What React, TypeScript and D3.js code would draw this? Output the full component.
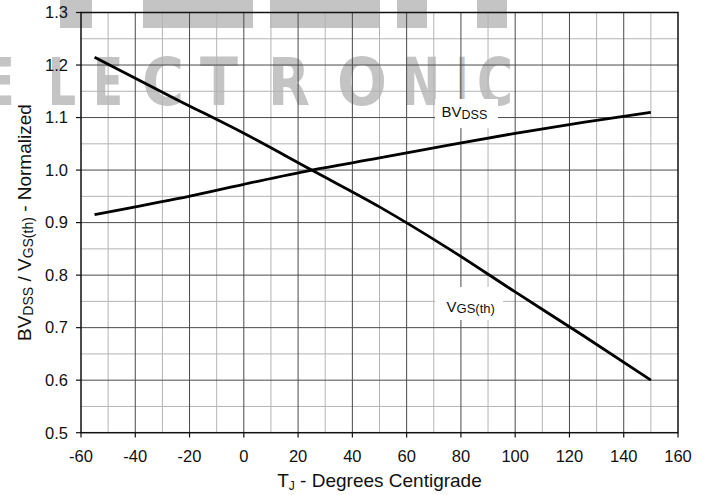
import React from "react";
import * as d3 from "d3";

const temps = [-55, -25, 0, 25, 50, 75, 100, 125, 150];
const bvdss = [0.915, 0.945, 0.973, 1.0, 1.023, 1.047, 1.07, 1.091, 1.11];
const vgsth = [1.215, 1.135, 1.07, 1.0, 0.93, 0.852, 0.768, 0.685, 0.6];
const xTicks = [-60, -40, -20, 0, 20, 40, 60, 80, 100, 120, 140, 160];
const yTicks = [0.5, 0.6, 0.7, 0.8, 0.9, 1.0, 1.1, 1.2, 1.3];
const watermarkLetters = ["E", "L", "E", "C", "T", "R", "O", "N", "I", "C"];
const watermarkX = [-12, 48, 93, 142, 200, 268, 337, 402, 457, 477];
const watermarkW = [26, 28, 30, 42, 38, 42, 50, 38, 10, 36];
const topBlocks = [[60, 92], [143, 253], [270, 380], [397, 427], [477, 507]];

const FONT = "'Liberation Sans', Arial, sans-serif";

export default function App() {
  const W = 713, H = 495;
  const x = d3.scaleLinear().domain([-60, 160]).range([81, 678]);
  const y = d3.scaleLinear().domain([0.5, 1.3]).range([432.7, 12.5]);
  const minorX = d3.range(-60, 161, 10);
  const minorY = d3.range(0, 17).map((i) => 0.5 + i * 0.05);
  const line = d3
    .line<number>()
    .x((_, i) => x(temps[i]))
    .y((d) => y(d))
    .curve(d3.curveMonotoneX);

  return (
    <div style={{ position: "fixed", left: 0, top: 0 }}>
      <svg width={W} height={H} style={{ display: "block", background: "#fff" }} fontFamily={FONT}>
        <rect x={0} y={0} width={W} height={H} fill="#fff" />
        {/* watermark */}
        {topBlocks.map((b, i) => (
          <rect key={"tb" + i} x={b[0]} y={0} width={b[1] - b[0]} height={28} fill="#c4c4c4" />
        ))}
        {watermarkLetters.map((l, i) => (
          <text
            key={"wm" + i}
            x={watermarkX[i]}
            y={105}
            fontSize={66}
            fontWeight="bold"
            fontFamily="'DejaVu Sans', sans-serif"
            fill="#c4c4c4"
            textLength={watermarkW[i]}
            lengthAdjust="spacingAndGlyphs"
          >
            {l}
          </text>
        ))}
        {/* minor grid */}
        {minorX.filter((v) => v % 20 !== 0).map((v) => (
          <line key={"mx" + v} x1={x(v)} x2={x(v)} y1={y(1.3)} y2={y(0.5)} stroke="#b4b4b4" strokeWidth={1} />
        ))}
        {minorY.filter((_, i) => i % 2 === 1).map((v, i) => (
          <line key={"my" + i} x1={x(-60)} x2={x(160)} y1={y(v)} y2={y(v)} stroke="#b4b4b4" strokeWidth={1} />
        ))}
        {/* major grid */}
        {xTicks.slice(1, -1).map((v) => (
          <line key={"gx" + v} x1={x(v)} x2={x(v)} y1={y(1.3)} y2={y(0.5)} stroke="#4a4a4a" strokeWidth={1} />
        ))}
        {yTicks.slice(1, -1).map((v) => (
          <line key={"gy" + v} x1={x(-60)} x2={x(160)} y1={y(v)} y2={y(v)} stroke="#4a4a4a" strokeWidth={1} />
        ))}
        {/* frame */}
        <rect x={x(-60)} y={y(1.3)} width={x(160) - x(-60)} height={y(0.5) - y(1.3)} fill="none" stroke="#111" strokeWidth={1.5} />
        {/* ticks */}
        {yTicks.map((v) => (
          <line key={"ty" + v} x1={76} x2={x(-60)} y1={y(v)} y2={y(v)} stroke="#111" strokeWidth={1.2} />
        ))}
        {xTicks.map((v) => (
          <line key={"tx" + v} x1={x(v)} x2={x(v)} y1={y(0.5)} y2={437.5} stroke="#111" strokeWidth={1.2} />
        ))}
        {/* label boxes */}
        <rect x={435} y={99} width={63} height={29} fill="#fff" />
        <rect x={435} y={287} width={68} height={33} fill="#fff" />
        {/* curves */}
        <path d={line(bvdss) || ""} fill="none" stroke="#000" strokeWidth={2.8} />
        <path d={line(vgsth) || ""} fill="none" stroke="#000" strokeWidth={2.8} />
        {/* curve labels */}
        <text x={441.5} y={117.3} fontSize={15} fill="#111">
          BV<tspan fontSize={12.5} dy={1.5}>DSS</tspan>
        </text>
        <text x={446.5} y={311.7} fontSize={15} fill="#111">
          V<tspan fontSize={13} dy={1.5}>GS(th)</tspan>
        </text>
        {/* tick labels */}
        {yTicks.map((v) => (
          <text key={"ly" + v} x={68} y={y(v) + 5.8} fontSize={16.5} textAnchor="end" fill="#111">
            {v.toFixed(1)}
          </text>
        ))}
        {xTicks.map((v) => (
          <text key={"lx" + v} x={x(v)} y={462} fontSize={16.5} textAnchor="middle" fill="#111">
            {v}
          </text>
        ))}
        {/* axis titles */}
        <text x={379.5} y={487} fontSize={19} textAnchor="middle" fill="#111">
          T<tspan fontSize={12} dy={3}>J</tspan>
          <tspan dy={-3}> - Degrees Centigrade</tspan>
        </text>
        <text transform={`translate(31, ${(y(1.3) + y(0.5)) / 2}) rotate(-90)`} fontSize={19} textAnchor="middle" fill="#111">
          BV<tspan fontSize={14} dy={2}>DSS</tspan>
          <tspan dy={-2}> / V</tspan>
          <tspan fontSize={14} dy={2}>GS(th)</tspan>
          <tspan dy={-2}> - Normalized</tspan>
        </text>
      </svg>
    </div>
  );
}
